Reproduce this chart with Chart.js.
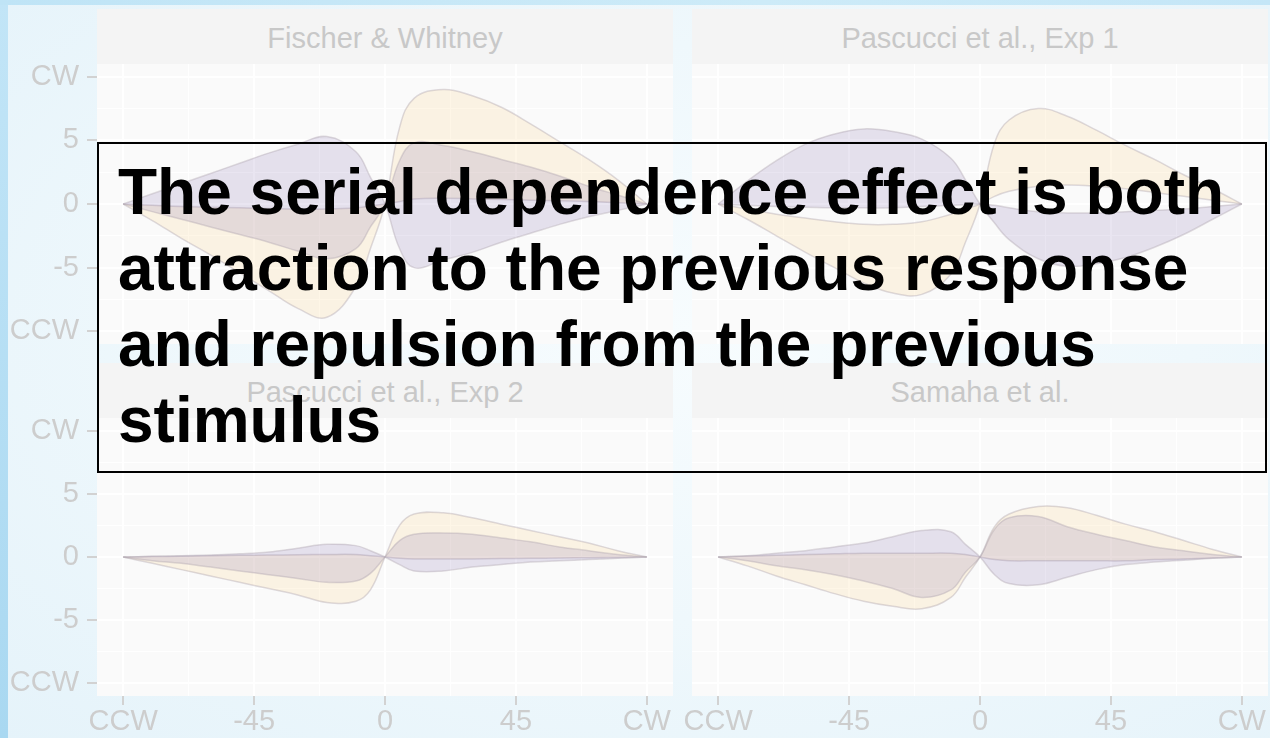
<!DOCTYPE html>
<html>
<head>
<meta charset="utf-8">
<title>Serial dependence</title>
<script src="https://cdn.jsdelivr.net/npm/chart.js@4"></script>
<style>
  html, body { margin: 0; padding: 0; }
  body {
    width: 1270px; height: 738px; overflow: hidden; position: relative;
    background: radial-gradient(ellipse at 55% 45%, #f7fcfe 0%, #eff8fc 50%, #e5f3fa 100%);
    font-family: "Liberation Sans", Arial, sans-serif;
  }
  .edge-left { position: absolute; left: 0; top: 0; width: 8px; height: 738px;
    background: linear-gradient(to bottom, #c2e5f7, #a9d8f1); }
  .edge-top { position: absolute; left: 0; top: 0; width: 1270px; height: 5px;
    background: linear-gradient(to right, #bfe4f6, #cdebf8 60%, #c4e6f7); }
  .strip { position: absolute; width: 576px; height: 55px; background: #f4f4f4;
    color: #c8c8c8; font-size: 29px; line-height: 58px; text-align: center; }
  canvas { position: absolute; }
  .note { position: absolute; left: 97px; top: 142px; width: 1170px; height: 331px;
    box-sizing: border-box; border: 2px solid #000; padding: 10px 0 0 19px;
    font-weight: bold; font-size: 64px; line-height: 76px; color: #000; white-space: nowrap; }
</style>
</head>
<body>
<div class="edge-left"></div>
<div class="edge-top"></div>

<div class="strip" style="left:97px; top:9px;">Fischer &amp; Whitney</div>
<div class="strip" style="left:692px; top:9px;">Pascucci et al., Exp 1</div>
<div class="strip" style="left:97px; top:363px;">Pascucci et al., Exp 2</div>
<div class="strip" style="left:692px; top:363px;">Samaha et al.</div>

<canvas id="fw" width="673" height="280" style="left:0; top:64px;"></canvas>
<canvas id="pe1" width="588" height="280" style="left:680px; top:64px;"></canvas>
<canvas id="pe2" width="673" height="320" style="left:0; top:418px;"></canvas>
<canvas id="sam" width="588" height="320" style="left:680px; top:418px;"></canvas>

<div class="note">The serial dependence effect is both<br>attraction to the previous response<br>and repulsion from the previous<br>stimulus</div>

<script>
// difference between previous and current orientation (deg)
const angles = [-90, -80, -70, -60, -50, -40, -30, -20, -10, -5, 0, 5, 10, 20, 30, 40, 50, 60, 70, 80, 90];

const xTicks = [-90, -67.5, -45, -22.5, 0, 22.5, 45, 67.5, 90];
const xLabels = {'-90': 'CCW', '-45': '-45', '0': '0', '45': '45', '90': 'CW'};
const yTicks = [-10, -7.5, -5, -2.5, 0, 2.5, 5, 7.5, 10];
const yLabels = {'-10': 'CCW', '-5': '-5', '0': '0', '5': '5', '10': 'CW'};

// Fischer & Whitney
const fwPurpleA = [0, 0.8, 1.6, 2.4, 3.2, 4.0, 4.7, 5.3, 4.1, 2.1, 0, -3.5, -5.0, -4.4, -3.8, -3.0, -2.3, -1.6, -1.0, -0.5, 0];
const fwPurpleB = [0, -0.6, -1.2, -1.8, -2.4, -3.0, -3.7, -4.3, -3.5, -1.8, 0, 3.4, 4.8, 4.6, 4.1, 3.5, 2.9, 2.2, 1.4, 0.7, 0];
const fwYellowA = [0, -0.1, -0.2, -0.25, -0.3, -0.35, -0.4, -0.4, -0.3, -0.15, 0, 0.2, 0.4, 0.45, 0.4, 0.35, 0.3, 0.25, 0.2, 0.1, 0];
const fwYellowB = [0, -1.3, -2.7, -4.0, -5.4, -6.8, -8.2, -8.9, -6.5, -3.5, 0, 6.0, 8.3, 9.0, 8.5, 7.6, 6.3, 4.9, 3.5, 1.9, 0];

// Pascucci et al., Exp 1
const pe1PurpleA = [0, 1.8, 3.4, 4.7, 5.5, 5.9, 5.7, 5.1, 3.6, 1.9, 0, -1.5, -2.8, -4.3, -4.9, -4.7, -4.2, -3.4, -2.4, -1.2, 0];
const pe1PurpleB = [0, -0.1, -0.2, -0.25, -0.3, -0.3, -0.3, -0.2, -0.1, -0.05, 0, -0.1, -0.3, -0.6, -0.7, -0.7, -0.6, -0.5, -0.4, -0.2, 0];
const pe1YellowA = [0, -0.4, -0.8, -1.1, -1.4, -1.6, -1.6, -1.4, -0.8, -0.4, 0, 0.6, 1.0, 1.4, 1.5, 1.4, 1.2, 0.9, 0.6, 0.3, 0];
const pe1YellowB = [0, -1.2, -2.5, -3.8, -5.0, -6.2, -7.0, -7.1, -5.5, -3.0, 0, 4.8, 6.6, 7.5, 6.9, 5.8, 4.6, 3.5, 2.3, 1.2, 0];

// Pascucci et al., Exp 2
const pe2PurpleA = [0, 0.05, 0.1, 0.15, 0.25, 0.4, 0.7, 1.0, 0.9, 0.5, 0, -0.6, -1.1, -1.1, -0.8, -0.6, -0.4, -0.3, -0.2, -0.1, 0];
const pe2PurpleB = [0, -0.3, -0.5, -0.8, -1.1, -1.4, -1.7, -2.0, -1.9, -1.3, 0, 1.3, 1.8, 1.9, 1.8, 1.5, 1.2, 0.8, 0.5, 0.2, 0];
const pe2YellowA = [0, 0.03, 0.06, 0.1, 0.13, 0.15, 0.18, 0.2, 0.2, 0.1, 0, -0.1, -0.15, -0.15, -0.15, -0.12, -0.1, -0.08, -0.05, -0.03, 0];
const pe2YellowB = [0, -0.5, -1.0, -1.5, -2.0, -2.5, -3.0, -3.6, -3.5, -2.6, 0, 2.5, 3.4, 3.5, 3.1, 2.6, 2.1, 1.6, 1.1, 0.5, 0];

// Samaha et al.
const samPurpleA = [0, 0.1, 0.3, 0.5, 0.8, 1.1, 1.6, 2.1, 2.0, 1.0, 0, -1.4, -2.1, -2.2, -1.6, -1.0, -0.6, -0.4, -0.25, -0.1, 0];
const samPurpleB = [0, -0.3, -0.7, -1.0, -1.4, -1.9, -2.5, -3.2, -2.6, -1.2, 0, 2.2, 3.1, 3.2, 2.4, 1.8, 1.3, 0.8, 0.5, 0.2, 0];
const samYellowA = [0, 0.07, 0.13, 0.2, 0.25, 0.3, 0.3, 0.3, 0.3, 0.2, 0, -0.2, -0.3, -0.3, -0.3, -0.3, -0.3, -0.2, -0.15, -0.07, 0];
const samYellowB = [0, -0.7, -1.5, -2.2, -2.9, -3.5, -3.9, -4.1, -3.2, -1.6, 0, 2.4, 3.4, 4.0, 3.9, 3.3, 2.6, 2.0, 1.3, 0.6, 0];

const purpleFill = 'rgba(120, 95, 170, 0.16)';
const yellowFill = 'rgba(252, 200, 110, 0.17)';
const edgeColor = 'rgba(175, 165, 175, 0.4)';
const textColor = '#cdcdcd';
const tickColor = '#d2d2d2';

Chart.defaults.font.family = '"Liberation Sans", Arial, sans-serif';

const panelBg = {
    id: 'panelBg',
    beforeDraw(chart) {
        const {ctx, chartArea: a} = chart;
        ctx.save();
        ctx.fillStyle = '#fafafa';
        ctx.fillRect(a.left, a.top, a.right - a.left, a.bottom - a.top);
        ctx.restore();
    }
};

function points(values) {
    return angles.map((x, i) => ({x: x, y: values[i]}));
}

function band(values, fill, color) {
    return {
        data: points(values),
        borderColor: edgeColor,
        borderWidth: 1.5,
        pointRadius: 0,
        tension: 0.4,
        fill: fill,
        backgroundColor: color
    };
}

function makePanel(id, purpleA, purpleB, yellowA, yellowB, showX, showY) {
    const isMajorX = v => xLabels[String(v)] !== undefined;
    const isMajorY = v => yLabels[String(v)] !== undefined;
    new Chart(document.getElementById(id), {
        type: 'line',
        data: {
            datasets: [
                band(purpleA, false, purpleFill),
                band(purpleB, '-1', purpleFill),
                band(yellowA, false, yellowFill),
                band(yellowB, '-1', yellowFill)
            ]
        },
        options: {
            responsive: false,
            animation: false,
            devicePixelRatio: 1,
            layout: {padding: 0},
            plugins: {legend: {display: false}, tooltip: {enabled: false}},
            scales: {
                x: {
                    type: 'linear', min: -99, max: 99,
                    afterBuildTicks: s => { s.ticks = xTicks.map(v => ({value: v})); },
                    afterFit: s => { s.height = showX ? 42 : 0; s.paddingLeft = 0; s.paddingRight = 0; },
                    border: {display: false},
                    grid: {
                        color: '#ffffff',
                        lineWidth: c => isMajorX(c.tick.value) ? 2 : 1,
                        drawTicks: showX,
                        tickLength: 9,
                        tickWidth: 2,
                        tickColor: c => isMajorX(c.tick.value) ? tickColor : 'rgba(0,0,0,0)'
                    },
                    ticks: {
                        display: showX, autoSkip: false, maxRotation: 0, padding: 0,
                        color: textColor, font: {size: 29},
                        callback: v => xLabels[String(v)] || ''
                    }
                },
                y: {
                    type: 'linear', min: -11, max: 11,
                    afterBuildTicks: s => { s.ticks = yTicks.map(v => ({value: v})); },
                    afterFit: s => { s.width = showY ? 97 : 12; s.paddingTop = 0; s.paddingBottom = 0; },
                    border: {display: false},
                    grid: {
                        color: '#ffffff',
                        lineWidth: c => isMajorY(c.tick.value) ? 2 : 1,
                        drawTicks: showY,
                        tickLength: 10,
                        tickWidth: 2,
                        tickColor: c => isMajorY(c.tick.value) ? tickColor : 'rgba(0,0,0,0)'
                    },
                    ticks: {
                        display: showY, autoSkip: false, padding: 8,
                        color: textColor, font: {size: 29},
                        callback: v => yLabels[String(v)] || ''
                    }
                }
            }
        },
        plugins: [panelBg]
    });
}

makePanel('fw', fwPurpleA, fwPurpleB, fwYellowA, fwYellowB, false, true);
makePanel('pe1', pe1PurpleA, pe1PurpleB, pe1YellowA, pe1YellowB, false, false);
makePanel('pe2', pe2PurpleA, pe2PurpleB, pe2YellowA, pe2YellowB, true, true);
makePanel('sam', samPurpleA, samPurpleB, samYellowA, samYellowB, true, false);
</script>
</body>
</html>
